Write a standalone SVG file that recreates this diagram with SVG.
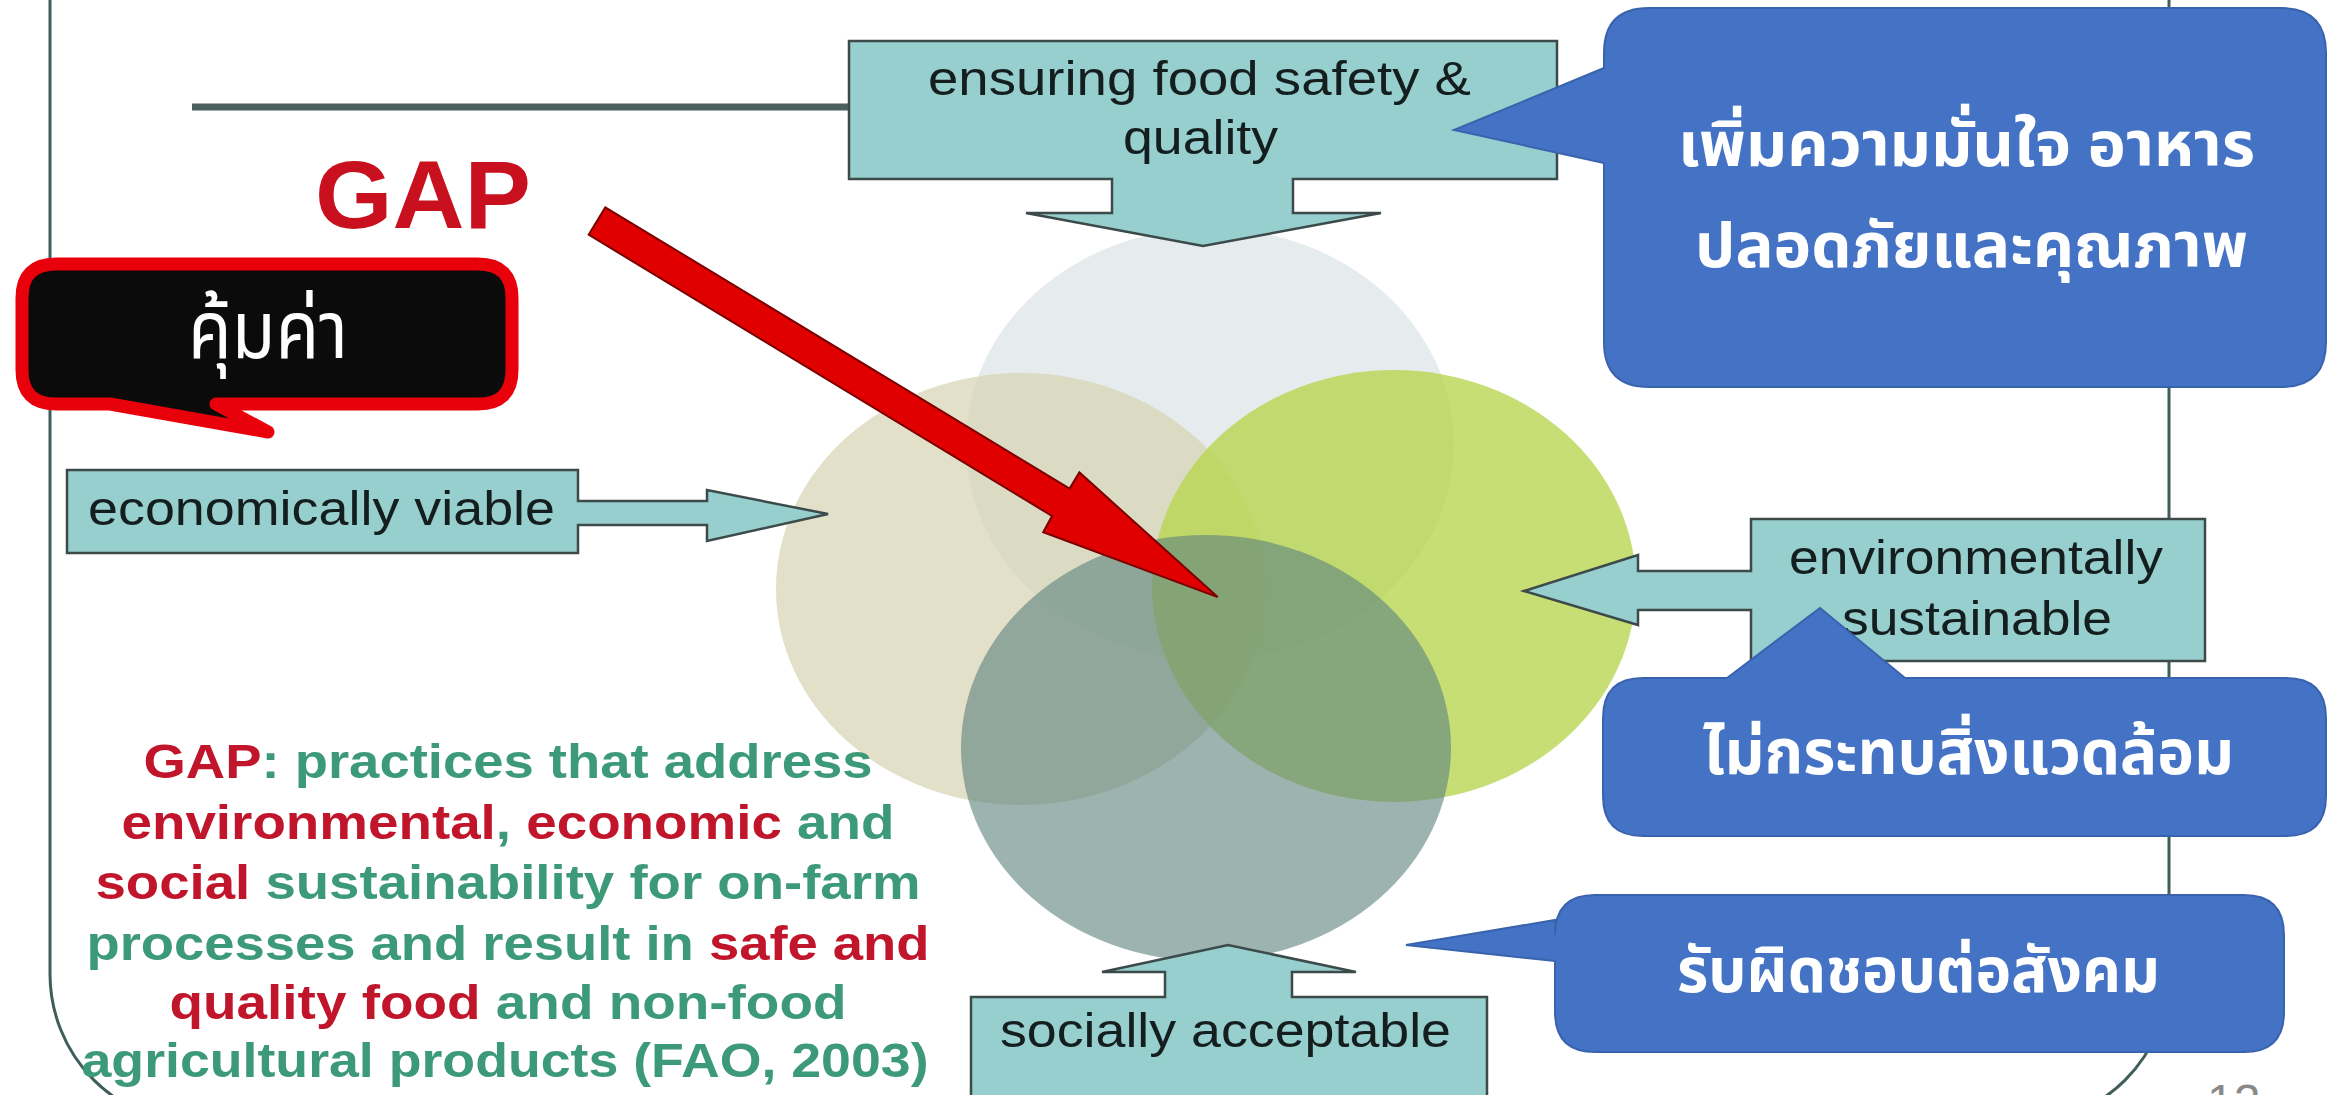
<svg xmlns="http://www.w3.org/2000/svg" width="2328" height="1095" viewBox="0 0 2328 1095">
<style>
.lbl{font-family:"Liberation Sans",Arial,sans-serif;font-size:48px;fill:#141e1e}
.teal{fill:#97cece;stroke:#3c4a4a;stroke-width:2.5}
.blue{fill:#4472c4;stroke:#3a63ad;stroke-width:2}
.th{font-family:"Noto Sans Thai","Noto Sans Thai UI","Noto Looped Thai","Loma","Garuda","Norasi","Tlwg Typist","Noto Sans",sans-serif;fill:#ffffff;font-weight:bold}
.thn{font-weight:normal}
.desc{font-family:"Liberation Sans",Arial,sans-serif;font-size:48px;font-weight:bold;fill:#3d9a78;text-anchor:middle}
.r{fill:#c0152a}
</style>
<rect width="2328" height="1095" fill="#ffffff"/>
<g id="frame">
<rect x="50" y="-300" width="2119" height="1424" rx="150" ry="150" fill="none" stroke="#3f5e5b" stroke-width="3"/>
<line x1="192" y1="107" x2="849" y2="107" stroke="#4d5f5f" stroke-width="7"/>
</g>
<g id="venn">
<ellipse id="c-top" cx="1210" cy="444" rx="244" ry="216" fill="#dbe2e6" fill-opacity="0.7"/>
<ellipse id="c-left" cx="1021" cy="589" rx="245" ry="216" fill="#d6d3b0" fill-opacity="0.7"/>
<ellipse id="c-right" cx="1394" cy="586" rx="242" ry="216" fill="#b8d650" fill-opacity="0.8"/>
<ellipse id="c-bottom" cx="1206" cy="748" rx="245" ry="213" fill="#5f8480" fill-opacity="0.62"/>
</g>
<g id="food-safety">
<path class="teal" d="M849,41 H1557 V179 H1293 V213 H1381 L1203,246 L1026,213 H1112 V179 H849 Z"/>
<text class="lbl" x="928" y="95" textLength="543" lengthAdjust="spacingAndGlyphs">ensuring food safety &amp;</text>
<text class="lbl" x="1123" y="154" textLength="155" lengthAdjust="spacingAndGlyphs">quality</text>
</g>
<g id="economically-viable">
<path class="teal" d="M67,470 H578 V501 H707 V490 L828,514 L707,541 V525 H578 V553 H67 Z"/>
<text class="lbl" x="88" y="525" textLength="467" lengthAdjust="spacingAndGlyphs">economically viable</text>
</g>
<g id="environmentally-sustainable">
<path class="teal" d="M1751,519 H2205 V661 H1751 V610 H1638 V625 L1524,591 L1638,555 V571 H1751 Z"/>
<text class="lbl" x="1976" y="574" text-anchor="middle" textLength="374" lengthAdjust="spacingAndGlyphs">environmentally</text>
<text class="lbl" x="1977" y="635" text-anchor="middle" textLength="270" lengthAdjust="spacingAndGlyphs">sustainable</text>
</g>
<g id="socially-acceptable">
<path class="teal" d="M971,997 H1165 V972 H1102 L1228,945 L1356,972 H1292 V997 H1487 V1130 H971 Z"/>
<text class="lbl" x="1000" y="1047" textLength="451" lengthAdjust="spacingAndGlyphs">socially acceptable</text>
</g>
<g id="gap-title">
<text x="315" y="228" font-family="Liberation Sans,Arial,sans-serif" font-size="96" font-weight="bold" fill="#c8101e" textLength="216" lengthAdjust="spacingAndGlyphs">GAP</text>
</g>
<g id="callout-value">
<path d="M56,264 H478 Q512,264 512,298 V370 Q512,404 478,404 H216 L268,432 L110,404 H56 Q22,404 22,370 V298 Q22,264 56,264 Z" fill="#0b0b0b" stroke="#e8000b" stroke-width="13" stroke-linejoin="round"/>
<text class="th thn" x="188" y="358" font-size="80" textLength="160" lengthAdjust="spacingAndGlyphs">คุ้มค่า</text>
</g>
<g id="callout-food">
<path class="blue" d="M1649,8 H2281 Q2326,8 2326,53 V342 Q2326,387 2281,387 H1649 Q1604,387 1604,342 V163 L1454,130 L1604,68 V53 Q1604,8 1649,8 Z"/>
<text class="th" x="1678" y="166" font-size="62" textLength="577" lengthAdjust="spacingAndGlyphs">เพิ่มความมั่นใจ อาหาร</text>
<text class="th" x="1695" y="267" font-size="62" textLength="553" lengthAdjust="spacingAndGlyphs">ปลอดภัยและคุณภาพ</text>
</g>
<g id="callout-env">
<path class="blue" d="M1643,678 H1727 L1820,608 L1905,678 H2286 Q2326,678 2326,718 V796 Q2326,836 2286,836 H1643 Q1603,836 1603,796 V718 Q1603,678 1643,678 Z"/>
<text class="th" x="1703" y="774" font-size="62" textLength="531" lengthAdjust="spacingAndGlyphs">ไม่กระทบสิ่งแวดล้อม</text>
</g>
<g id="callout-social">
<path class="blue" d="M1595,895 H2244 Q2284,895 2284,935 V1012 Q2284,1052 2244,1052 H1595 Q1555,1052 1555,1012 V961 L1406,945 L1555,920 V935 Q1555,895 1595,895 Z"/>
<text class="th" x="1677" y="992" font-size="62" textLength="483" lengthAdjust="spacingAndGlyphs">รับผิดชอบต่อสังคม</text>
</g>
<g id="connectors">
<polygon points="605.3,207.3 1069.6,488.6 1079.4,472.4 1217.7,597.1 1043.2,532.2 1052,516 588.7,234.7" fill="#e00000" stroke="#7a0000" stroke-width="2" stroke-linejoin="miter"/>
</g>
<g id="definition">
<text class="desc" x="508" y="778" textLength="729" lengthAdjust="spacingAndGlyphs"><tspan class="r">GAP</tspan>: practices that address</text>
<text class="desc" x="508" y="839" textLength="773" lengthAdjust="spacingAndGlyphs"><tspan class="r">environmental</tspan>, <tspan class="r">economic</tspan> and</text>
<text class="desc" x="508" y="899" textLength="825" lengthAdjust="spacingAndGlyphs"><tspan class="r">social</tspan> sustainability for on-farm</text>
<text class="desc" x="508" y="960" textLength="843" lengthAdjust="spacingAndGlyphs">processes and result in <tspan class="r">safe and</tspan></text>
<text class="desc" x="508" y="1019" textLength="677" lengthAdjust="spacingAndGlyphs"><tspan class="r">quality food</tspan> and non-food</text>
<text class="desc" x="505" y="1077" textLength="847" lengthAdjust="spacingAndGlyphs">agricultural products (FAO, 2003)</text>
</g>
<g id="page-number">
<text x="2207" y="1118" font-family="Liberation Sans,Arial,sans-serif" font-size="48" fill="#8a8a8a">12</text>
</g>
</svg>
